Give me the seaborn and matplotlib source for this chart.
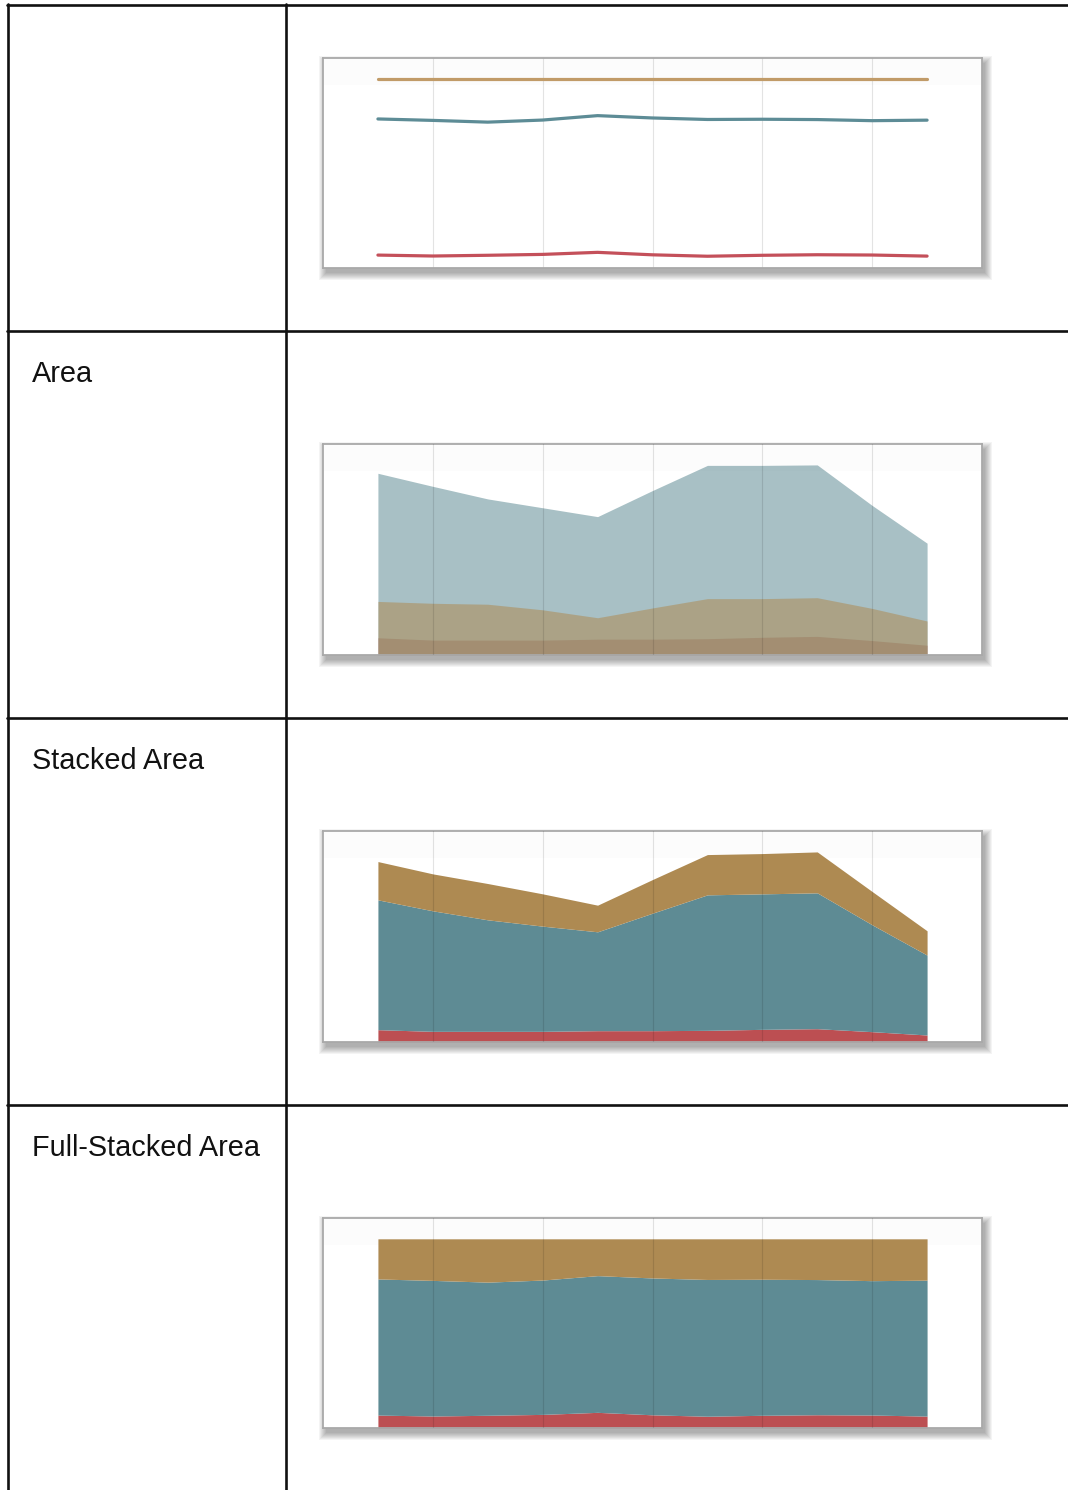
#%%
# Libraries
import numpy as np
import pandas as pd
import seaborn as sns
import matplotlib.pyplot as plt
from matplotlib.lines import Line2D
from matplotlib.patches import Rectangle

#%%
# Data (11 points, three series)
x_idx = list(range(11))
red = [37, 32, 32, 32, 34, 34, 35, 38, 40, 31, 21]
blue = [390, 362, 335, 316, 297, 353, 407, 407, 408, 321, 240]
orange = [115, 111, 109, 97, 80, 101, 121, 121, 123, 100, 73]

row_labels = ["", "Area", "Stacked Area", "Full-Stacked Area"]

# colours
c_red, c_blue, c_orange = '#bc4f52', '#5e8b94', '#ae8a52'
l_red, l_blue, l_orange = '#c4505a', '#5d8c96', '#c19b68'

df = pd.DataFrame({'x': x_idx, 'red': red, 'blue': blue, 'orange': orange})
tot = df[['red', 'blue', 'orange']].sum(axis=1)
df['red_pct'] = df['red'] / tot * 100
df['blue_pct'] = df['blue'] / tot * 100
df['orange_pct'] = df['orange'] / tot * 100

#%%
sns.set_theme(style="white")
plt.rcParams['font.family'] = ['Liberation Sans', 'DejaVu Sans']

W, H = 1068, 1490
fig = plt.figure(figsize=(W / 100, H / 100), dpi=100)
fig.patch.set_facecolor('white')

# table grid
lw = 1.9
for y in [5, 331, 718, 1105]:
    fig.add_artist(Line2D([7 / W, 1], [1 - y / H] * 2, color='#111111', lw=lw))
for x in [8, 286]:
    fig.add_artist(Line2D([x / W] * 2, [1 - 4 / H, 0], color='#111111', lw=lw))

# row labels, baseline 51 px under each row line
for i, lab in enumerate(row_labels):
    fig.text(32 / W, 1 - (-5 + 387 * i) / H, lab, fontsize=20.8,
             ha='left', va='baseline', color='#111111')

#%%
# chart boxes (pixel positions from top)
boxes = [(58, 268), (444, 655), (831, 1042), (1218, 1428)]
x0, x1 = 323, 982
axes = []
for top, bot in boxes:
    ax = fig.add_axes([x0 / W, 1 - bot / H, (x1 - x0) / W, (bot - top) / H])
    ax.set_facecolor('white')
    # soft drop shadow
    for e in range(8):
        fig.add_artist(Rectangle(((x0 + 3 - e) / W, 1 - (bot + 5 + e) / H),
                                 (x1 - x0 + 2 * e) / W, (bot - top + 2 * e) / H,
                                 facecolor='black', alpha=0.045, lw=0, zorder=-1))
    axes.append(ax)


def style(ax, ymax):
    ax.set_xlim(x_idx[0] - 1, x_idx[-1] + 1)
    ax.set_ylim(0, ymax * 1.11)
    ax.set_xticks(x_idx[1::2])
    ax.set_yticks([])
    ax.set_xticklabels([])
    ax.tick_params(length=0)
    ax.grid(axis='x', color='black', alpha=0.11, lw=0.8)
    ax.grid(axis='y', visible=False)
    for s in ax.spines.values():
        s.set_visible(True)
        s.set_color('#a9a9a9')
        s.set_linewidth(1.3)
    ax.set_xlabel('')
    ax.set_ylabel('')
    ax.add_patch(Rectangle((0, 0.87), 1, 0.13, transform=ax.transAxes,
                           color='#fcfcfc', lw=0, zorder=0))


#%%
# Full-stacked line
ax = axes[0]
cum_red = df['red_pct']
cum_blue = df['red_pct'] + df['blue_pct']
cum_orange = cum_blue + df['orange_pct']
sns.lineplot(x=df['x'], y=cum_orange, color=l_orange, lw=2.3, ax=ax)
sns.lineplot(x=df['x'], y=cum_blue, color=l_blue, lw=2.3, ax=ax)
sns.lineplot(x=df['x'], y=cum_red, color=l_red, lw=2.3, ax=ax)
style(ax, 100)
ax.set_axisbelow(True)

# Area (overlapping)
ax = axes[1]
for vals, col in [(red, c_red), (blue, c_blue), (orange, c_orange)]:
    ax.fill_between(x_idx, 0, vals, color=col, alpha=0.54, lw=0)
style(ax, max(max(red), max(blue), max(orange)))
ax.set_axisbelow(False)

# Stacked area
ax = axes[2]
ax.stackplot(x_idx, red, blue, orange, colors=[c_red, c_blue, c_orange], lw=0)
style(ax, tot.max())
ax.set_axisbelow(False)

# Full-stacked area
ax = axes[3]
ax.stackplot(x_idx, df['red_pct'], df['blue_pct'], df['orange_pct'],
             colors=[c_red, c_blue, c_orange], lw=0)
style(ax, 100)
ax.set_axisbelow(False)

fig.savefig('out.png', dpi=100)
